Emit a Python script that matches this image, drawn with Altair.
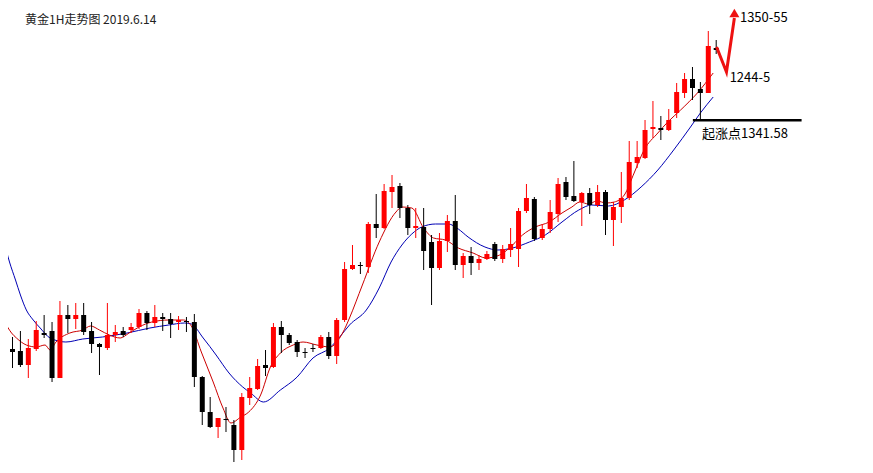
import altair as alt
import pandas as pd

# ---------------- candle data (1H gold) ----------------
open_ = [1320.6, 1318.7, 1318.5, 1317.1, 1318.7, 1320.3, 1320.5, 1315.8, 1322.1, 1321.7,
         1322.1, 1320.5, 1319.2, 1318.8, 1320.1, 1320.5, 1320.6, 1320.9, 1322.3, 1321.3,
         1321.9, 1321.7, 1321.4, 1321.5, 1321.4, 1315.9, 1312.4, 1310.9, 1311.7, 1311.1,
         1308.6, 1313.8, 1314.7, 1317.1, 1316.9, 1320.9, 1320.1, 1319.4, 1318.4, 1318.8,
         1318.8, 1319.9, 1318.0, 1321.6, 1326.7, 1327.1, 1326.9, 1331.2, 1330.8, 1334.4,
         1335.0, 1332.8, 1330.8, 1330.9, 1329.4, 1326.8, 1329.5, 1331.5, 1327.1, 1328.0,
         1327.3, 1327.7, 1329.2, 1327.7, 1328.6, 1328.7, 1332.5, 1333.7, 1329.8, 1330.7,
         1332.2, 1335.4, 1334.0, 1333.4, 1334.3, 1333.1, 1334.4, 1331.6, 1332.9, 1333.8,
         1337.3, 1337.8, 1340.7, 1340.8, 1340.6, 1342.3, 1344.3, 1345.7, 1344.7, 1344.3,
         1348.8]
high = [1320.8, 1319.9, 1320.5, 1319.7, 1321.5, 1322.1, 1321.4, 1323.5, 1323.1, 1323.3,
        1323.3, 1321.4, 1319.3, 1323.3, 1321.1, 1320.9, 1321.3, 1322.7, 1322.5, 1323.1,
        1322.3, 1322.3, 1322.0, 1321.9, 1322.2, 1316.0, 1313.9, 1311.8, 1312.9, 1311.6,
        1314.3, 1315.9, 1317.7, 1318.6, 1321.3, 1321.5, 1320.3, 1319.6, 1318.8, 1319.2,
        1320.1, 1320.4, 1321.8, 1327.4, 1329.1, 1327.4, 1331.4, 1334.2, 1335.2, 1336.1,
        1335.3, 1333.1, 1332.8, 1332.8, 1330.1, 1330.3, 1332.1, 1334.1, 1328.3, 1328.9,
        1328.1, 1328.5, 1329.4, 1329.1, 1330.8, 1332.8, 1335.2, 1333.9, 1331.2, 1333.6,
        1335.8, 1335.9, 1337.5, 1334.4, 1334.8, 1335.1, 1334.6, 1333.4, 1336.4, 1339.5,
        1339.5, 1341.6, 1343.5, 1342.0, 1342.7, 1345.3, 1346.3, 1346.9, 1345.4, 1350.5,
        1349.6]
low = [1318.6, 1316.8, 1316.9, 1315.8, 1318.5, 1319.8, 1315.4, 1315.8, 1320.3, 1320.7,
       1320.1, 1318.3, 1316.1, 1318.6, 1319.4, 1319.9, 1320.3, 1320.7, 1320.6, 1320.9,
       1320.5, 1319.8, 1320.6, 1320.4, 1314.9, 1311.1, 1310.8, 1309.8, 1310.4, 1307.4,
       1307.6, 1313.1, 1314.6, 1316.0, 1316.8, 1318.3, 1319.1, 1317.9, 1317.8, 1318.4,
       1318.7, 1317.7, 1317.2, 1321.4, 1326.6, 1326.2, 1326.3, 1329.8, 1330.7, 1332.8,
       1331.8, 1330.1, 1329.8, 1326.6, 1323.1, 1326.6, 1328.4, 1326.6, 1325.8, 1326.1,
       1326.6, 1327.6, 1327.5, 1327.3, 1327.9, 1326.9, 1332.3, 1329.5, 1329.6, 1330.3,
       1331.4, 1333.6, 1333.4, 1331.0, 1332.2, 1332.9, 1330.1, 1329.0, 1331.3, 1333.6,
       1336.8, 1337.7, 1339.8, 1339.6, 1340.5, 1341.8, 1343.8, 1343.6, 1341.6, 1344.3,
       1348.2]
close = [1318.8, 1318.4, 1317.1, 1318.8, 1320.6, 1320.1, 1315.8, 1322.1, 1321.7, 1322.1,
         1320.4, 1319.2, 1318.9, 1320.1, 1320.4, 1320.1, 1320.9, 1322.3, 1321.3, 1321.9,
         1321.7, 1321.2, 1321.6, 1321.4, 1315.9, 1312.4, 1310.9, 1311.8, 1311.6, 1308.6,
         1313.9, 1314.8, 1317.0, 1316.8, 1320.9, 1320.1, 1319.3, 1318.4, 1318.3, 1318.7,
         1319.9, 1318.0, 1321.6, 1326.7, 1327.1, 1327.0, 1331.2, 1330.8, 1334.5, 1334.9,
         1332.8, 1330.8, 1331.0, 1328.5, 1326.8, 1329.5, 1331.5, 1327.1, 1328.0, 1327.3,
         1327.7, 1328.2, 1327.7, 1328.7, 1329.2, 1332.5, 1333.8, 1329.7, 1330.7, 1332.4,
         1335.2, 1333.9, 1333.5, 1334.3, 1333.1, 1334.4, 1331.6, 1332.9, 1333.8, 1337.4,
         1337.9, 1340.6, 1340.9, 1340.6, 1341.6, 1344.4, 1345.7, 1344.8, 1344.3, 1349.0,
         1348.6]
bar_index = list(range(len(open_)))

# ---------------- moving-average lines (traced) ----------------
ma_red_i = [-0.12, 0.88, 1.5, 2.75, 4.0, 5.12, 5.75, 6.5, 8.25, 9.88, 10.88, 12.0, 13.25,
            14.62, 15.75, 17.0, 18.62, 20.75, 22.62, 23.62, 24.88, 26.38, 27.62, 28.62,
            29.88, 30.88, 32.38, 33.62, 34.88, 36.5, 37.75, 39.5, 41.12, 42.75, 43.62,
            45.25, 47.38, 49.5, 50.25, 51.5, 53.0, 54.25, 55.75, 57.38, 59.25, 60.88,
            62.62, 64.25, 65.5, 67.12, 68.88, 70.5, 71.75, 72.75, 73.88, 74.88, 76.12,
            77.12, 78.38, 79.62, 80.88, 82.62, 83.88, 85.5, 87.62, 89.62]
ma_red_p = [1321.6, 1320.3, 1319.8, 1319.1, 1318.9, 1319.1, 1318.6, 1319.4, 1320.3, 1320.6,
            1321.0, 1320.6, 1320.1, 1319.8, 1320.3, 1320.9, 1321.4, 1321.6, 1321.6, 1321.0,
            1318.4, 1315.4, 1312.8, 1311.3, 1311.9, 1312.4, 1314.1, 1316.9, 1318.3, 1319.1,
            1319.4, 1319.1, 1318.9, 1320.3, 1321.8, 1325.1, 1329.4, 1332.4, 1332.9, 1332.8,
            1330.8, 1329.8, 1329.6, 1328.8, 1328.3, 1327.8, 1328.1, 1329.1, 1330.1, 1330.9,
            1331.4, 1332.3, 1332.9, 1333.4, 1333.2, 1333.5, 1333.3, 1333.4, 1334.1, 1336.3,
            1338.6, 1340.3, 1341.4, 1342.6, 1344.3, 1346.3]
ma_blue_i = [-0.12, 0.62, 1.38, 2.0, 2.75, 3.62, 4.5, 5.75, 7.75, 9.88, 12.38, 15.5, 18.38,
             20.75, 22.75, 23.62, 25.12, 26.75, 28.38, 30.12, 31.12, 32.75, 34.88, 37.0,
             39.0, 41.12, 42.38, 43.62, 45.75, 47.38, 48.88, 50.25, 51.5, 52.75, 54.5,
             56.12, 57.38, 58.62, 60.75, 62.38, 64.25, 66.38, 68.38, 70.5, 72.62, 74.25,
             76.38, 78.38, 80.5, 82.62, 84.62, 86.75, 88.0, 89.62]
ma_blue_p = [1329.6, 1327.4, 1325.6, 1324.1, 1322.6, 1321.6, 1320.8, 1319.8, 1319.4, 1319.7,
             1319.9, 1320.3, 1320.8, 1321.1, 1321.3, 1321.2, 1319.8, 1318.1, 1316.3, 1314.9,
             1314.3, 1313.4, 1314.6, 1315.9, 1317.8, 1318.8, 1319.9, 1321.1, 1322.6, 1324.8,
             1327.4, 1329.1, 1330.2, 1330.9, 1331.2, 1331.2, 1330.7, 1329.9, 1328.9, 1328.6,
             1328.8, 1329.4, 1330.1, 1331.4, 1332.6, 1333.1, 1333.0, 1333.6, 1334.9, 1336.6,
             1338.6, 1340.9, 1342.3, 1343.9]

# ---------------- annotations ----------------
arrow_i = [90.05, 91.3, 92.3]
arrow_p = [1348.9, 1346.4, 1351.8]
arrow_head_i = [92.3]
arrow_head_p = [1352.3]
start_price = 1341.58
start_line_i = [87.05, 100.8]
label_text = ["1350-55", "1244-5", "起涨点1341.58"]
label_i = [93.0, 91.7, 88.2]
label_p = [1351.85, 1345.8, 1340.2]
title_text = "黄金1H走势图 2019.6.14"

# ---------------- build ----------------
df = pd.DataFrame({"i": bar_index, "open": open_, "high": high, "low": low, "close": close})
df["dir"] = ["up" if c >= o else "down" for o, c in zip(open_, close)]

xsc = alt.Scale(domain=[1.0625, 108.1875], nice=False, zero=False)
ysc = alt.Scale(domain=[1307.1, 1352.8], nice=False, zero=False)
col = alt.Color("dir:N", scale=alt.Scale(domain=["up", "down"], range=["#ff0000", "#000000"]), legend=None)

base = alt.Chart(df)
wick = base.mark_rule(strokeWidth=1).encode(
    x=alt.X("i:Q", scale=xsc, axis=None),
    y=alt.Y("low:Q", scale=ysc, axis=None), y2="high:Q", color=col)
body = base.mark_bar(size=5).encode(
    x=alt.X("i:Q", scale=xsc, axis=None),
    y=alt.Y("open:Q", scale=ysc, axis=None), y2="close:Q", color=col)

red_df = pd.DataFrame({"i": ma_red_i, "p": ma_red_p})
blue_df = pd.DataFrame({"i": ma_blue_i, "p": ma_blue_p})
ma_red = alt.Chart(red_df).mark_line(color="#cc0000", strokeWidth=1, interpolate="monotone").encode(
    x=alt.X("i:Q", scale=xsc, axis=None), y=alt.Y("p:Q", scale=ysc, axis=None))
ma_blue = alt.Chart(blue_df).mark_line(color="#0000b4", strokeWidth=1, interpolate="monotone").encode(
    x=alt.X("i:Q", scale=xsc, axis=None), y=alt.Y("p:Q", scale=ysc, axis=None))

arr_df = pd.DataFrame({"i": arrow_i, "p": arrow_p})
arrow = alt.Chart(arr_df).mark_line(color="#ee1111", strokeWidth=3).encode(
    x=alt.X("i:Q", scale=xsc, axis=None), y=alt.Y("p:Q", scale=ysc, axis=None))
head_df = pd.DataFrame({"i": arrow_head_i, "p": arrow_head_p})
head = alt.Chart(head_df).mark_point(shape="triangle-up", filled=True, size=100,
                                     color="#ee1111", opacity=1).encode(
    x=alt.X("i:Q", scale=xsc, axis=None), y=alt.Y("p:Q", scale=ysc, axis=None))

sl_df = pd.DataFrame({"i0": [start_line_i[0]], "i1": [start_line_i[1]], "p": [start_price]})
sline = alt.Chart(sl_df).mark_rule(color="black", strokeWidth=2.5).encode(
    x=alt.X("i0:Q", scale=xsc, axis=None), x2="i1:Q", y=alt.Y("p:Q", scale=ysc, axis=None))

lab_df = pd.DataFrame({"t": label_text, "i": label_i, "p": label_p})
labels = alt.Chart(lab_df).mark_text(align="left", baseline="middle", font="Noto Sans CJK SC",
                                      fontSize=13, color="black").encode(
    x=alt.X("i:Q", scale=xsc, axis=None), y=alt.Y("p:Q", scale=ysc, axis=None), text="t:N")

title = alt.Chart(pd.DataFrame({"t": [title_text]})).mark_text(
    align="left", baseline="middle", font="Noto Sans CJK SC", fontSize=12, color="#222222").encode(
    x=alt.value(17), y=alt.value(12), text="t:N")

chart = alt.layer(ma_blue, ma_red, wick, body, arrow, head, sline, labels, title).properties(
    width=857, height=457, padding=0, autosize="none", background="white"
).configure_view(stroke=None)

chart.save("out.html", embed_options={"renderer": "svg", "actions": False})
